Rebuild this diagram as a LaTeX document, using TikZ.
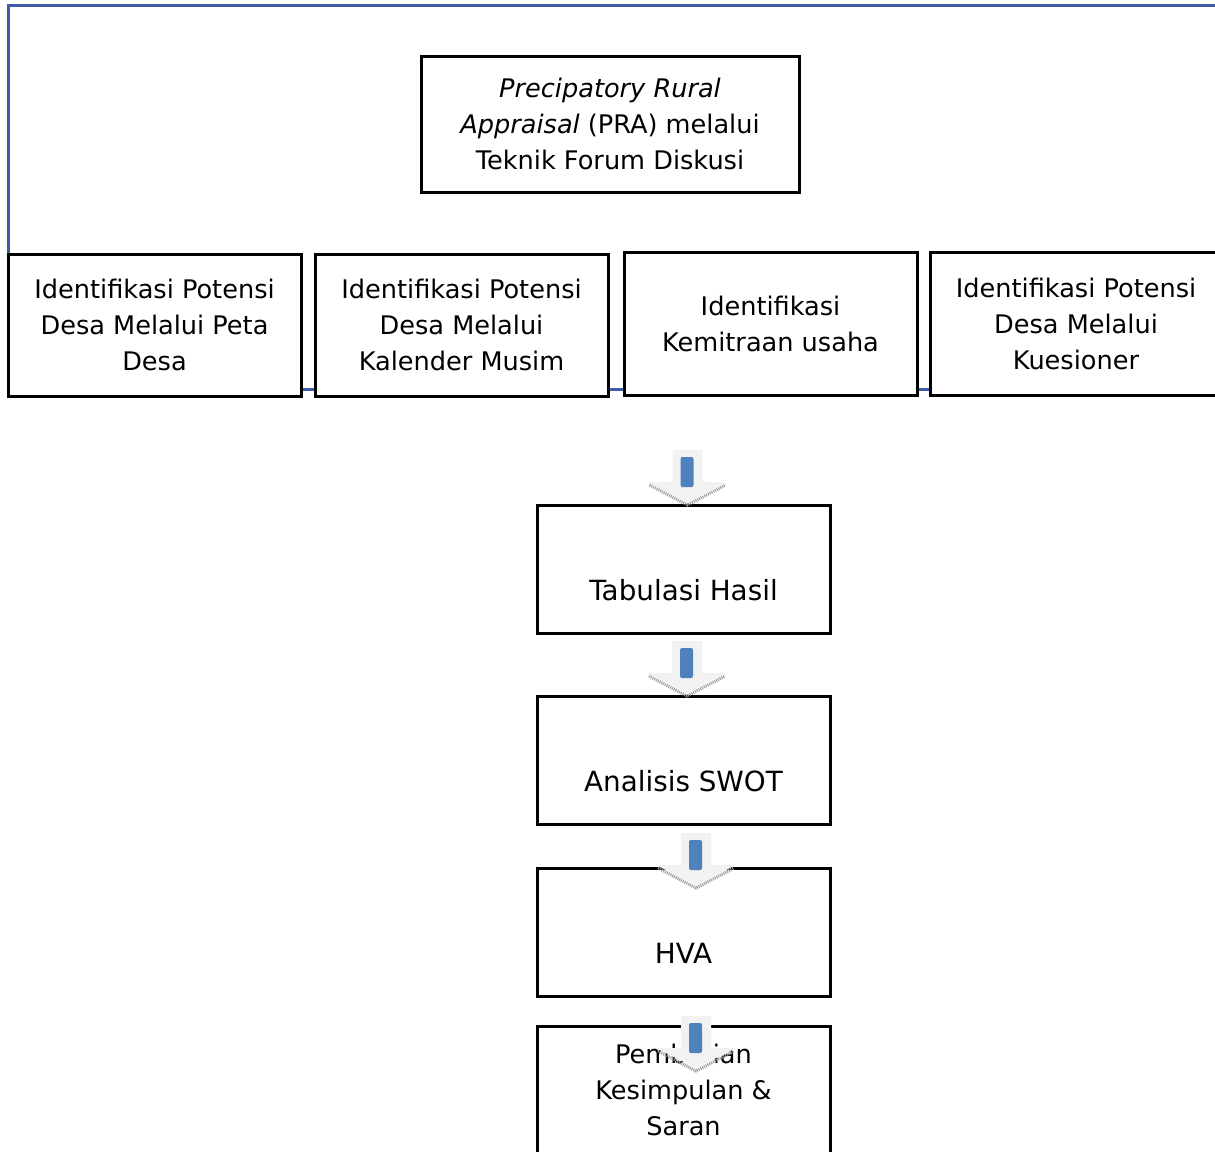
\documentclass[tikz,border=0pt]{standalone}
\usepackage{fontspec}
\setmainfont{DejaVu Sans}
\definecolor{frameblue}{RGB}{61,93,165}
\definecolor{barblue}{RGB}{79,129,189}
\tikzset{
  blockarrow/.pic={
    \draw[gray!80, line width=3pt, dash pattern=on 1pt off 1pt]
      (-38,-17) -- (0,3) -- (38,-17) (13,-42) -- (13,-20);
    \fill[gray!10] (-15,-52) -- (15,-52) -- (15,-20) -- (40,-20) -- (0,0)
      -- (-40,-20) -- (-15,-20) -- cycle;
    \fill[barblue, rounded corners=2pt] (-7,-45) rectangle (6,-15);
  }
}
\begin{document}
\begin{tikzpicture}[x=1pt, y=-1pt]
  \tikzstyle{box}=[draw, fill=white, line width=3pt, inner sep=0pt,
    align=center, font=\fontsize{25.6}{36}\selectfont]
  \tikzstyle{step box}=[box, minimum width=293pt, minimum height=128pt,
    text height=69pt, text depth=7pt, font=\fontsize{27.8}{36}\selectfont]
  \tikzstyle{frame}=[frameblue, line width=3pt]
  \clip (0,0) rectangle (1215,1151);
  \draw[frame] (1215,5) -- (8,5) -- (8,255);
  \draw[frame] (8,389) -- (1215,389);
  \node[box, minimum width=378pt, minimum height=136pt] (pra) at (610,124)
    {\textit{Precipatory Rural}\\\textit{Appraisal} (PRA) melalui\\Teknik Forum Diskusi};
  \node[box, minimum width=293pt, minimum height=142pt] (peta) at (154.5,325)
    {Identifikasi Potensi\\Desa Melalui Peta\\Desa};
  \node[box, minimum width=293pt, minimum height=142pt] (musim) at (461.5,325)
    {Identifikasi Potensi\\Desa Melalui\\Kalender Musim};
  \node[box, minimum width=293pt, minimum height=143pt] (mitra) at (770.5,323.5)
    {Identifikasi\\Kemitraan usaha};
  \node[box, minimum width=292pt, minimum height=143pt] (kues) at (1076,323.5)
    {Identifikasi Potensi\\Desa Melalui\\Kuesioner};
  \node[step box] (tab) at (683.5,569) {Tabulasi Hasil};
  \node[step box] (swot) at (683.5,760) {Analisis SWOT};
  \node[step box] (hva) at (683.5,932) {HVA};
  \node[box, minimum width=293pt, minimum height=128pt] (saran) at (683.5,1090)
    {Pemberian\\Kesimpulan \&\\Saran};
  \foreach \x/\y in {687.5/502, 687/693, 696/885, 696/1068}
    \pic at (\x,\y) {blockarrow};
\end{tikzpicture}
\end{document}
